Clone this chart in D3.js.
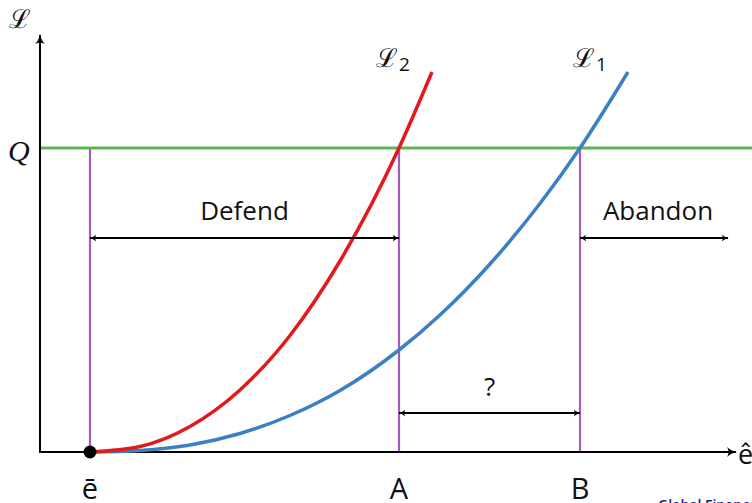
<!DOCTYPE html>
<html>
<head>
<meta charset="utf-8">
<script src="https://cdn.jsdelivr.net/npm/d3@7"></script>
<style>
  body { margin: 0; background: #fff; overflow: hidden; }
  svg { display: block; }
</style>
</head>
<body>
<svg id="chart"></svg>
<script>
let red = "#e3191c";
let blue = "#3b80c2";
let green = "#5cb54f";
let purple = "#a65cbd";

const width = 752;
const height = 503;

// effort levels on the horizontal axis
const eBar = 1;
const pointA = 7.18;
const pointB = 10.8;
const qLevel = 6.08;

// L2 (red) and L1 (blue)
const l2X = [1, 2, 3, 4, 5, 6, 7.18, 7.84];
const l2Y = [0, 0.11, 0.51, 1.24, 2.33, 3.82, 6.08, 7.6];
const l1X = [1, 2, 3, 4, 5, 6, 7.18, 8, 9, 10, 10.8, 11.76];
const l1Y = [0, 0.03, 0.14, 0.37, 0.73, 1.23, 2.04, 2.74, 3.76, 4.97, 6.08, 7.6];

const xTicks = [
  { v: eBar, label: "ē" },
  { v: pointA, label: "A" },
  { v: pointB, label: "B" }
];

const xScale = d3.scaleLinear().domain([0, 14]).range([40, 740]);
const yScale = d3.scaleLinear().domain([0, 8]).range([452, 52]);

const svg = d3.select("#chart")
  .attr("width", width)
  .attr("height", height);

const defs = svg.append("defs");
defs.append("marker")
  .attr("id", "head")
  .attr("viewBox", "0 -5 10 10")
  .attr("refX", 9)
  .attr("refY", 0)
  .attr("markerWidth", 7)
  .attr("markerHeight", 7)
  .attr("markerUnits", "userSpaceOnUse")
  .attr("orient", "auto-start-reverse")
  .append("path")
  .attr("d", "M0,-5 Q4,-1 10,0 Q4,1 0,5 Q3,0 0,-5Z")
  .attr("fill", "#000");

defs.append("marker")
  .attr("id", "bighead")
  .attr("viewBox", "0 -5 10 10")
  .attr("refX", 9)
  .attr("refY", 0)
  .attr("markerWidth", 10)
  .attr("markerHeight", 10)
  .attr("markerUnits", "userSpaceOnUse")
  .attr("orient", "auto-start-reverse")
  .append("path")
  .attr("d", "M0,-5 Q4,-1 10,0 Q4,1 0,5 Q3,0 0,-5Z")
  .attr("fill", "#000");

const g = svg.append("g");

//purple verticals
g.selectAll(".vline")
  .data(xTicks)
  .enter()
  .append("line")
  .attr("x1", d => xScale(d.v))
  .attr("x2", d => xScale(d.v))
  .attr("y1", yScale(qLevel))
  .attr("y2", yScale(0))
  .attr("stroke", purple)
  .attr("stroke-width", 2.2);

//Q line
g.append("line")
  .attr("x1", xScale(0))
  .attr("x2", width)
  .attr("y1", yScale(qLevel))
  .attr("y2", yScale(qLevel))
  .attr("stroke", green)
  .attr("stroke-width", 3);

//axes
g.append("line")
  .attr("x1", xScale(0))
  .attr("x2", xScale(0))
  .attr("y1", yScale(0) + 1)
  .attr("y2", 35)
  .attr("stroke", "#000")
  .attr("stroke-width", 2)
  .attr("marker-end", "url(#bighead)");

g.append("line")
  .attr("x1", xScale(0) - 1)
  .attr("x2", 736)
  .attr("y1", yScale(0))
  .attr("y2", yScale(0))
  .attr("stroke", "#000")
  .attr("stroke-width", 2)
  .attr("marker-end", "url(#bighead)");

//curves
const line = d3.line()
  .x(d => xScale(d[0]))
  .y(d => yScale(d[1]))
  .curve(d3.curveMonotoneX);

g.append("path")
  .datum(l1X.map((x, i) => [x, l1Y[i]]))
  .attr("d", line)
  .attr("fill", "none")
  .attr("stroke", blue)
  .attr("stroke-width", 3.5);

g.append("path")
  .datum(l2X.map((x, i) => [x, l2Y[i]]))
  .attr("d", line)
  .attr("fill", "none")
  .attr("stroke", red)
  .attr("stroke-width", 3.5);

g.append("circle")
  .attr("cx", xScale(eBar))
  .attr("cy", yScale(0))
  .attr("r", 6.5)
  .attr("fill", "#000");

//double arrows
const arrows = [
  { x1: eBar, x2: pointA, y: 238 },
  { x1: pointB, x2: 13.76, y: 238 },
  { x1: pointA, x2: pointB, y: 413 }
];
g.selectAll(".arrow")
  .data(arrows)
  .enter()
  .append("line")
  .attr("x1", d => xScale(d.x1))
  .attr("x2", d => xScale(d.x2))
  .attr("y1", d => d.y)
  .attr("y2", d => d.y)
  .attr("stroke", "#000")
  .attr("stroke-width", 2)
  .attr("marker-start", "url(#head)")
  .attr("marker-end", "url(#head)");

//labels
const sans = "'Open Sans', 'DejaVu Sans', sans-serif";
const label = (x, y, txt, size, anchor, family, style) =>
  g.append("text")
    .attr("x", x)
    .attr("y", y)
    .attr("text-anchor", anchor || "middle")
    .style("font-family", family || sans)
    .style("font-style", style || "normal")
    .style("font-size", size + "px")
    .attr("fill", "#111")
    .text(txt);

label((xScale(eBar) + xScale(pointA)) / 2, 220, "Defend", 26);
label(658, 220, "Abandon", 26);
label((xScale(pointA) + xScale(pointB)) / 2, 396, "?", 26);

g.selectAll(".xlab")
  .data(xTicks)
  .enter()
  .append("text")
  .attr("x", d => xScale(d.v))
  .attr("y", 499)
  .attr("text-anchor", "middle")
  .style("font-family", sans)
  .style("font-size", "29px")
  .attr("fill", "#111")
  .text(d => d.label);

label(738, 464, "ê", 27, "start");

const serif = "'DejaVu Serif', 'Liberation Serif', serif";
label(9, 28, "ℒ", 26, "start", serif);
label(8, 161, "Q", 30, "start", "'Liberation Serif', serif", "italic");

label(376, 67, "ℒ", 26, "start", serif);
label(399, 71, "2", 19, "start", sans);
label(573, 67, "ℒ", 26, "start", serif);
label(596, 71, "1", 19, "start", sans);

g.append("text")
  .attr("x", 658)
  .attr("y", 510)
  .style("font-family", sans)
  .style("font-size", "14px")
  .style("font-weight", "600")
  .attr("fill", "#1d1d8a")
  .text("Global Finance");
</script>
</body>
</html>
